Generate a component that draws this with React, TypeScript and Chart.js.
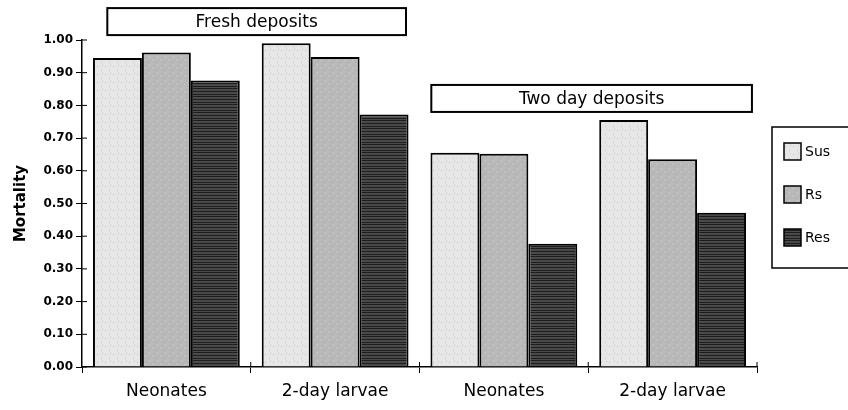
import React, { useEffect, useRef } from "react";
import { Chart, registerables } from "chart.js";

Chart.register(...registerables);

const categories = ["Neonates", "2-day larvae", "Neonates", "2-day larvae"];
const seriesNames = ["Sus", "Rs", "Res"];
const susValues = [0.945, 0.99, 0.655, 0.755];
const rsValues = [0.962, 0.948, 0.652, 0.635];
const resValues = [0.876, 0.772, 0.377, 0.472];
const groupLabels = ["Fresh deposits", "Two day deposits"];
const groupFrom = [-0.35, 1.57];
const groupTo = [1.42, 3.47];
const groupBoxBottom = [1.015, 0.78];

function makePattern(kind: string): CanvasPattern | string {
  const c = document.createElement("canvas");
  c.width = 8;
  c.height = 8;
  const g = c.getContext("2d");
  if (!g) return "#888";
  if (kind === "sus") {
    g.fillStyle = "#e6e6e6";
    g.fillRect(0, 0, 8, 8);
    g.fillStyle = "#c8c8c8";
    g.fillRect(1, 2, 1, 1);
    g.fillRect(5, 6, 1, 1);
    g.fillRect(6, 1, 1, 1);
  } else if (kind === "rs") {
    g.fillStyle = "#b9b9b9";
    g.fillRect(0, 0, 8, 8);
    g.fillStyle = "#a5a5a5";
    g.fillRect(2, 1, 1, 1);
    g.fillRect(6, 4, 1, 1);
    g.fillRect(3, 6, 1, 1);
    g.fillStyle = "#cacaca";
    g.fillRect(0, 4, 1, 1);
    g.fillRect(5, 0, 1, 1);
  } else {
    g.fillStyle = "#4a4a4a";
    g.fillRect(0, 0, 8, 8);
    g.fillStyle = "#1e1e1e";
    g.fillRect(0, 0, 8, 1);
    g.fillRect(0, 3, 8, 1);
    g.fillRect(0, 6, 8, 1);
  }
  return g.createPattern(c, "repeat") || "#888";
}

export default function App() {
  const ref = useRef<HTMLCanvasElement | null>(null);

  useEffect(() => {
    document.body.style.margin = "0";
    const canvas = ref.current;
    if (!canvas) return;
    const fills = [makePattern("sus"), makePattern("rs"), makePattern("res")];
    const font = "'DejaVu Sans', sans-serif";

    const decor = {
      id: "decor",
      afterDraw(chart: any) {
        const ctx = chart.ctx;
        const ys = chart.scales.y;
        const area = chart.chartArea;
        ctx.save();
        ctx.strokeStyle = "#000";
        ctx.lineWidth = 1;
        ys.ticks.forEach((t: any) => {
          const py = ys.getPixelForValue(t.value);
          ctx.beginPath();
          ctx.moveTo(area.left, py);
          ctx.lineTo(area.left + 5, py);
          ctx.stroke();
        });
        const n = categories.length;
        const w = (area.right - area.left) / n;
        for (let i = 1; i <= n; i++) {
          const px = area.left + w * i;
          ctx.beginPath();
          ctx.moveTo(px, area.bottom);
          ctx.lineTo(px, area.bottom - 5);
          ctx.stroke();
        }
        ctx.font = `17px ${font}`;
        ctx.textAlign = "center";
        ctx.textBaseline = "middle";
        for (let g = 0; g < groupLabels.length; g++) {
          const x0 = area.left + w * (groupFrom[g] + 0.5);
          const x1 = area.left + w * (groupTo[g] + 0.5);
          const yb = ys.getPixelForValue(groupBoxBottom[g]);
          const h = 27;
          ctx.fillStyle = "#fff";
          ctx.fillRect(x0, yb - h, x1 - x0, h);
          ctx.lineWidth = 2;
          ctx.strokeStyle = "#000";
          ctx.strokeRect(x0, yb - h, x1 - x0, h);
          ctx.fillStyle = "#000";
          ctx.fillText(groupLabels[g], (x0 + x1) / 2, yb - h / 2 + 1);
        }
        const lx = area.right + 15;
        const ly = 127;
        ctx.lineWidth = 1.5;
        ctx.strokeRect(lx, ly, 100, 141);
        ctx.font = `14px ${font}`;
        ctx.textAlign = "left";
        for (let i = 0; i < seriesNames.length; i++) {
          const sy = ly + 16 + i * 43;
          ctx.fillStyle = fills[i] as any;
          ctx.fillRect(lx + 12, sy, 17, 17);
          ctx.lineWidth = 1.5;
          ctx.strokeRect(lx + 12, sy, 17, 17);
          ctx.fillStyle = "#000";
          ctx.fillText(seriesNames[i], lx + 33, sy + 9);
        }
        ctx.restore();
      },
    };

    const chart = new Chart(canvas, {
      type: "bar",
      data: {
        labels: categories,
        datasets: [
          { label: seriesNames[0], data: susValues, backgroundColor: fills[0] as any },
          { label: seriesNames[1], data: rsValues, backgroundColor: fills[1] as any },
          { label: seriesNames[2], data: resValues, backgroundColor: fills[2] as any },
        ].map((d) => ({
          ...d,
          borderColor: "#000",
          borderWidth: 2,
          categoryPercentage: 0.87,
          barPercentage: 1.0,
        })),
      },
      options: {
        animation: false,
        responsive: false,
        maintainAspectRatio: false,
        layout: { padding: { top: 40, right: 91, bottom: 0, left: 12 } },
        plugins: {
          legend: { display: false },
          tooltip: { enabled: false },
        },
        scales: {
          x: {
            grid: { offset: true, drawOnChartArea: false, tickLength: 6, color: "#000" },
            border: { color: "#000", width: 1.5 },
            ticks: { color: "#000", font: { family: font, size: 17 }, padding: 8 },
            afterFit: (s: any) => {
              s.height = 43;
            },
          },
          y: {
            min: 0,
            max: 1,
            grid: { drawOnChartArea: false, tickLength: 6, color: "#000" },
            border: { color: "#000", width: 1.5 },
            ticks: {
              stepSize: 0.1,
              color: "#000",
              font: { family: font, size: 12, weight: "bold" },
              padding: 3,
              callback: (v: any) => Number(v).toFixed(2),
            },
            title: {
              display: true,
              text: "Mortality",
              color: "#000",
              font: { family: font, size: 15, weight: "bold" },
              padding: { top: 0, bottom: 0 },
            },
            afterFit: (s: any) => {
              s.width = 70;
            },
          },
        },
      },
      plugins: [decor],
    });
    return () => chart.destroy();
  }, []);

  return <canvas ref={ref} width={848} height={410} style={{ display: "block" }} />;
}
